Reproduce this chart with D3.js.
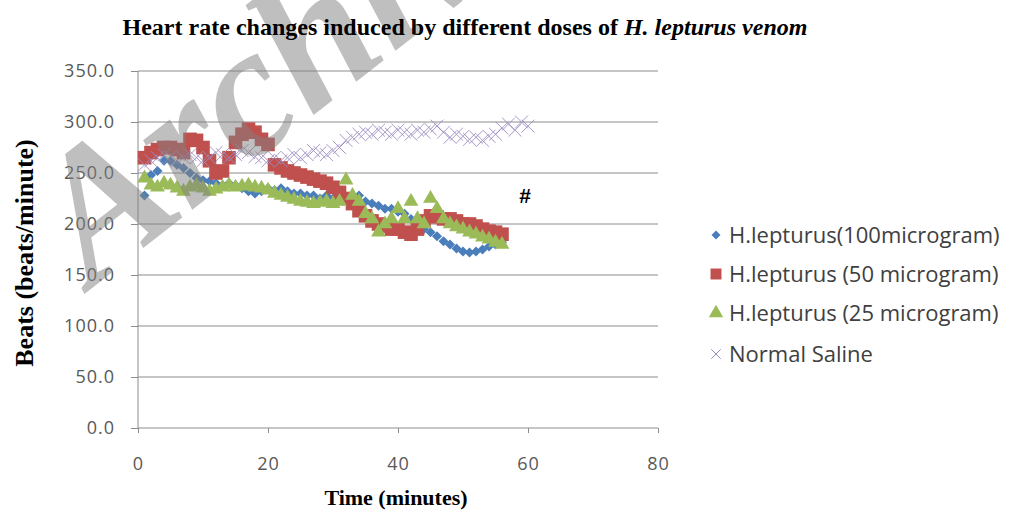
<html>
<head>
<meta charset="utf-8" />
<title>Heart rate changes</title>
<script src="https://d3js.org/d3.v7.min.js"></script>
<style>
  body { margin: 0; background: white; }
  .tick text { font-family: "Open Sans", sans-serif; font-size: 18px; fill: #595959; letter-spacing: 1px; }
  .grid line { stroke: #8c8c8c; }
  .legend text { font-family: "Open Sans", sans-serif; font-size: 22px; fill: #404040; }
  .axtitle { font-family: "Liberation Serif", serif; font-weight: bold; }
</style>
</head>
<body>
<script>
// minutes after injection
var timeVenom = d3.range(1, 57);
var timeSaline = d3.range(1, 61);

var dose100 = [228, 248, 252, 262, 262, 258, 255, 250, 245, 243, 242, 240, 238, 240, 238, 235, 232, 230, 232, 235,
  233, 235, 232, 230, 230, 228, 228, 225, 228, 225, 225, 223, 225, 228, 222, 220, 218, 215, 215, 212,
  210, 205, 200, 195, 192, 188, 183, 180, 176, 173, 172, 173, 175, 178, 180, 182];
var dose50 = [265, 270, 273, 275, 275, 273, 270, 283, 282, 275, 262, 250, 252, 265, 280, 288, 293, 290, 283, 278,
  258, 255, 252, 250, 248, 246, 244, 242, 240, 236, 231, 225, 220, 213, 208, 203, 200, 198, 195, 195,
  192, 190, 195, 203, 208, 207, 205, 205, 203, 200, 200, 198, 195, 193, 192, 190];
var dose25 = [245, 238, 236, 240, 238, 235, 232, 236, 238, 235, 232, 234, 236, 238, 236, 237, 238, 236, 235, 233,
  230, 228, 226, 224, 222, 221, 220, 221, 222, 220, 222, 243, 228, 222, 210, 205, 192, 200, 205, 215,
  205, 222, 205, 200, 225, 215, 205, 200, 197, 195, 192, 190, 187, 185, 182, 180];
var saline = [258, 262, 265, 268, 266, 262, 265, 268, 265, 262, 265, 270, 268, 265, 268, 272, 270, 266, 265, 262,
  265, 262, 265, 268, 265, 268, 272, 270, 268, 272, 275, 282, 285, 288, 290, 288, 292, 290, 288, 292,
  290, 288, 292, 290, 293, 296, 290, 285, 288, 286, 283, 285, 282, 286, 288, 294, 298, 292, 300, 296];

var seriesNames = ["H.lepturus(100microgram)", "H.lepturus (50 microgram)", "H.lepturus (25 microgram)", "Normal Saline"];
var seriesColors = ["#4a7ebb", "#c0504d", "#9bbb59", "#9d8cc0"];
var yTicks = [0, 50, 100, 150, 200, 250, 300, 350];
var xTicks = [0, 20, 40, 60, 80];

var width = 1012, height = 514;
var svg = d3.select("body").append("svg")
    .attr("width", width)
    .attr("height", height);

var x = d3.scaleLinear().domain([0, 80]).range([138, 658]);
var y = d3.scaleLinear().domain([0, 350]).range([428, 71]);

// horizontal gridlines
svg.append("g").attr("class", "grid")
  .selectAll("line").data(yTicks.slice(1)).enter().append("line")
    .attr("x1", x(0)).attr("x2", x(80))
    .attr("y1", function(d) { return y(d); })
    .attr("y2", function(d) { return y(d); });

var yAxis = svg.append("g")
    .attr("transform", "translate(" + x(0) + ",0)")
    .call(d3.axisLeft(y).tickValues(yTicks).tickFormat(d3.format(".1f")).tickSize(7).tickPadding(16));
var xAxis = svg.append("g")
    .attr("transform", "translate(0," + y(0) + ")")
    .call(d3.axisBottom(x).tickValues(xTicks).tickSize(5).tickPadding(24));
svg.selectAll(".domain, .tick line").attr("stroke", "#8c8c8c");
xAxis.selectAll(".domain").attr("d", "M" + x(0) + ",0H" + x(80));
yAxis.selectAll(".domain").attr("d", "M0," + y(0) + "V" + y(350));

function pts(ts, vs) { return ts.map(function(t, i) { return [t, vs[i]]; }); }

var sym = [d3.symbolSquare, d3.symbolSquare, d3.symbolTriangle, d3.symbolX];
var rot = [45, 0, 0, 0];
var sz = [50, 185, 95, 110];
var data = [pts(timeVenom, dose100), pts(timeVenom, dose50), pts(timeVenom, dose25), pts(timeSaline, saline)];

data.forEach(function(s, k) {
  svg.append("g").selectAll("path").data(s).enter().append("path")
    .attr("transform", function(d) { return "translate(" + x(d[0]) + "," + y(d[1]) + ")rotate(" + rot[k] + ")"; })
    .attr("d", d3.symbol().type(sym[k]).size(sz[k]))
    .attr("fill", k == 3 ? "none" : seriesColors[k])
    .attr("stroke", k == 3 ? seriesColors[k] : "none")
    .attr("stroke-width", 0.9);
});

svg.append("text")
  .attr("x", 525).attr("y", 203)
  .attr("text-anchor", "middle")
  .style("font-family", "Liberation Sans, sans-serif")
  .style("font-size", "21px").style("font-weight", "bold")
  .text("#");

// legend
var legend = svg.append("g").attr("class", "legend");
var legY = [235, 274, 313, 354];
var legSz = [40, 120, 90, 60];
seriesNames.forEach(function(n, k) {
  legend.append("path")
    .attr("transform", "translate(716," + legY[k] + ")rotate(" + rot[k] + ")")
    .attr("d", d3.symbol().type(sym[k]).size(legSz[k]))
    .attr("fill", k == 3 ? "none" : seriesColors[k])
    .attr("stroke", k == 3 ? seriesColors[k] : "none");
  legend.append("text")
    .attr("x", 729).attr("y", legY[k]).attr("dy", "0.35em")
    .text(n);
});

// watermark
svg.append("text")
  .attr("transform", "translate(92,288)rotate(-38)")
  .style("font-family", "Liberation Serif, serif")
  .style("font-style", "italic").style("font-weight", "bold")
  .style("font-size", "185px")
  .attr("fill", "#808080").attr("fill-opacity", 0.5)
  .text("Archive");

// titles
var title = svg.append("text")
  .attr("class", "axtitle")
  .attr("x", 465).attr("y", 35)
  .attr("text-anchor", "middle")
  .attr("textLength", 685).attr("lengthAdjust", "spacingAndGlyphs")
  .style("font-size", "23px");
title.append("tspan").text("Heart rate changes induced by different doses of ");
title.append("tspan").style("font-style", "italic").text("H. lepturus venom");

svg.append("text")
  .attr("class", "axtitle")
  .attr("x", 396).attr("y", 505)
  .attr("text-anchor", "middle")
  .style("font-size", "22px")
  .text("Time (minutes)");

svg.append("text")
  .attr("class", "axtitle")
  .attr("transform", "translate(33,253)rotate(-90)")
  .attr("text-anchor", "middle")
  .style("font-size", "26px")
  .text("Beats (beats/minute)");
</script>
</body>
</html>
